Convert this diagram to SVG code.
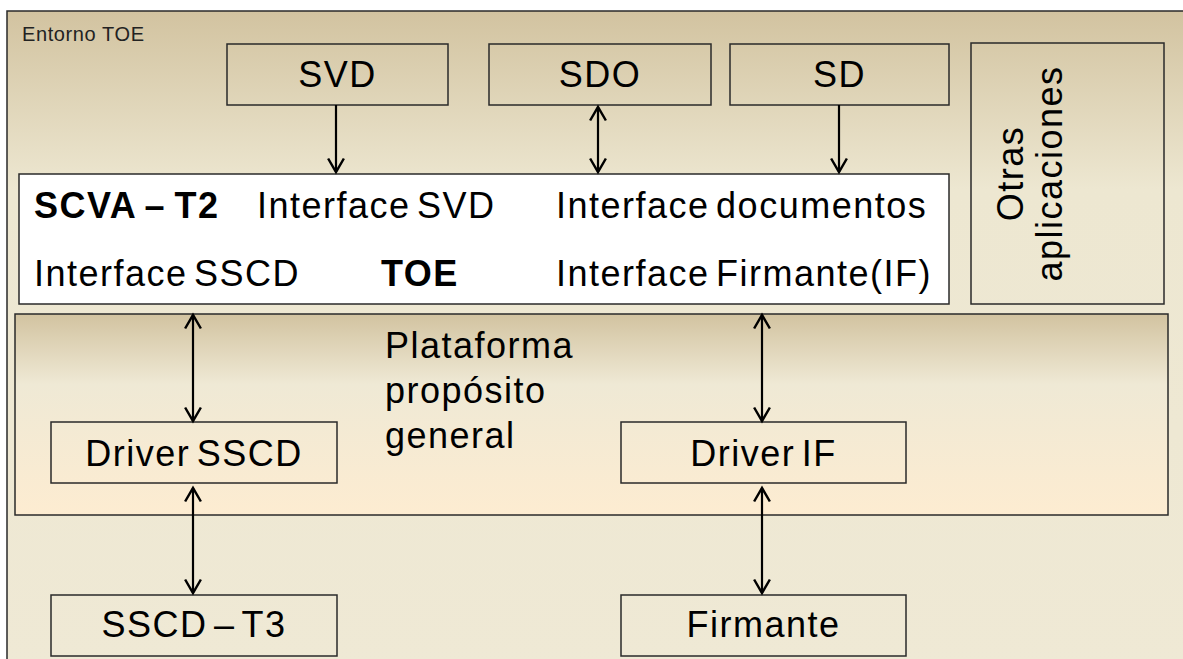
<svg xmlns="http://www.w3.org/2000/svg" width="1183" height="659" viewBox="0 0 1183 659">
  <defs>
    <linearGradient id="gEnv" x1="0" y1="0" x2="0" y2="1">
      <stop offset="0" stop-color="#d2c3a0"/>
      <stop offset="0.27" stop-color="#ede7d1"/>
      <stop offset="1" stop-color="#efe9d5"/>
    </linearGradient>
    <linearGradient id="gPlat" x1="0" y1="0" x2="0" y2="1">
      <stop offset="0" stop-color="#d2c3a0"/>
      <stop offset="0.35" stop-color="#efe9d5"/>
      <stop offset="1" stop-color="#fdecd1"/>
    </linearGradient>
    <marker id="ah" markerUnits="userSpaceOnUse" markerWidth="18" markerHeight="18" refX="13" refY="8" orient="auto-start-reverse" viewBox="0 0 16 16">
      <path d="M1,1 L13,8 L1,15" fill="none" stroke="#000" stroke-width="2.2"/>
    </marker>
    <style>
      .box { fill: none; stroke: #2a2a2a; stroke-width: 1.5; }
      .t { font-family: "Liberation Sans", Arial, sans-serif; font-size: 36px; letter-spacing: 1.5px; word-spacing: -5px; fill: #000; }
      .c { text-anchor: middle; }
      .b { font-weight: bold; letter-spacing: 1.5px; word-spacing: -3px; }
      .con { stroke: #000; stroke-width: 2.2; fill: none; }
    </style>
  </defs>

  <rect width="1183" height="659" fill="#ffffff"/>

  <g id="entorno">
    <rect x="7" y="11" width="1190" height="660" fill="url(#gEnv)" stroke="#2a2a2a" stroke-width="1.5"/>
    <text x="22" y="41" style="font-family: 'Liberation Sans', Arial, sans-serif; font-size: 20px; letter-spacing: 0.6px; fill: #222;">Entorno TOE</text>
  </g>

  <g id="plataforma">
    <rect x="15" y="314" width="1153" height="201" fill="url(#gPlat)" stroke="#2a2a2a" stroke-width="1.5"/>
    <text class="t" x="385" y="358">Plataforma</text>
    <text class="t" x="385" y="403">propósito</text>
    <text class="t" x="385" y="448">general</text>
  </g>

  <g id="svd">
    <rect class="box" x="227" y="44" width="221" height="61"/>
    <text class="t c" x="337.5" y="87">SVD</text>
  </g>
  <g id="sdo">
    <rect class="box" x="489" y="44" width="222" height="61"/>
    <text class="t c" x="600" y="87">SDO</text>
  </g>
  <g id="sd">
    <rect class="box" x="730" y="44" width="219" height="61"/>
    <text class="t c" x="839.5" y="87">SD</text>
  </g>
  <g id="otras">
    <rect class="box" x="971" y="43" width="193" height="261"/>
    <text class="t c" transform="translate(1023,173.5) rotate(-90)">Otras</text>
    <text class="t c" transform="translate(1062,173.5) rotate(-90)">aplicaciones</text>
  </g>

  <g id="toe">
    <rect x="19" y="174" width="930" height="130" fill="#ffffff" stroke="#2a2a2a" stroke-width="1.5"/>
    <text class="t b" x="34" y="218">SCVA – T2</text>
    <text class="t" x="257" y="218">Interface SVD</text>
    <text class="t" x="556" y="218">Interface documentos</text>
    <text class="t" x="34" y="286">Interface SSCD</text>
    <text class="t b" x="381" y="286">TOE</text>
    <text class="t" x="556" y="286">Interface Firmante(IF)</text>
  </g>

  <g id="driver-sscd">
    <rect class="box" x="51" y="422" width="286" height="61"/>
    <text class="t c" x="194" y="466">Driver SSCD</text>
  </g>
  <g id="driver-if">
    <rect class="box" x="621" y="422" width="285" height="61"/>
    <text class="t c" x="763.5" y="466">Driver IF</text>
  </g>
  <g id="sscd-t3">
    <rect class="box" x="51" y="595" width="286" height="61"/>
    <text class="t c" x="194" y="637">SSCD – T3</text>
  </g>
  <g id="firmante">
    <rect class="box" x="621" y="595" width="285" height="61"/>
    <text class="t c" x="763.5" y="637">Firmante</text>
  </g>

  <g id="connectors">
    <line class="con" x1="336" y1="105" x2="336" y2="172" marker-end="url(#ah)"/>
    <line class="con" x1="598" y1="107" x2="598" y2="172" marker-start="url(#ah)" marker-end="url(#ah)"/>
    <line class="con" x1="839" y1="105" x2="839" y2="172" marker-end="url(#ah)"/>
    <line class="con" x1="193" y1="315" x2="193" y2="421" marker-start="url(#ah)" marker-end="url(#ah)"/>
    <line class="con" x1="193" y1="488" x2="193" y2="593" marker-start="url(#ah)" marker-end="url(#ah)"/>
    <line class="con" x1="762" y1="315" x2="762" y2="421" marker-start="url(#ah)" marker-end="url(#ah)"/>
    <line class="con" x1="762" y1="488" x2="762" y2="593" marker-start="url(#ah)" marker-end="url(#ah)"/>
  </g>
</svg>
